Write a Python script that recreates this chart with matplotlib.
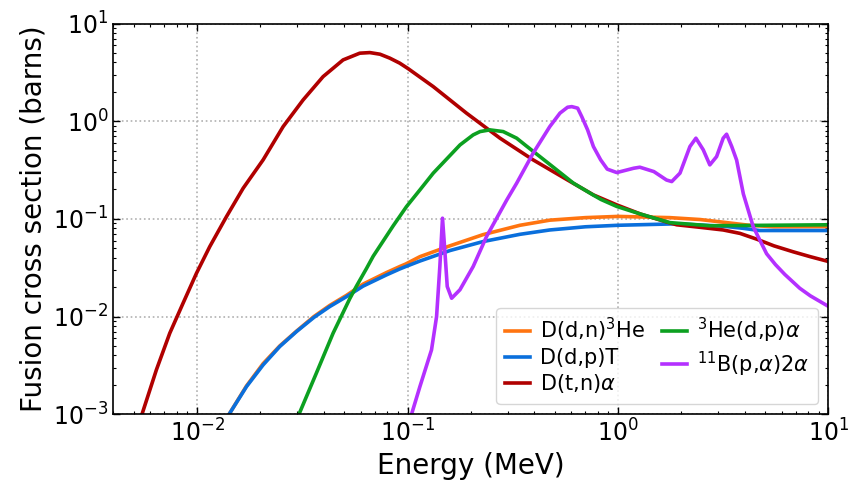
# -*- coding: utf-8 -*-
import matplotlib
matplotlib.use('Agg')
import matplotlib.pyplot as plt
import numpy as np

# energies in MeV, cross sections in barns
e_dt=np.array([0.0055, 0.00641, 0.00742, 0.00858, 0.00994, 0.01149, 0.0138, 0.01656,
               0.0206, 0.02564, 0.0319, 0.0397, 0.0494, 0.0593, 0.0662, 0.0740,
               0.0824, 0.0918, 0.1007, 0.1325, 0.1905, 0.275, 0.395, 0.576, 0.764,
               0.987, 1.28, 1.7, 1.9, 2.45, 3.16, 3.8, 4.56, 5.5, 6.8, 8.2, 10.0])
s_dt=np.array([0.00103, 0.00285, 0.00676, 0.0137, 0.0278, 0.052, 0.1056, 0.206,
               0.402, 0.88, 1.65, 2.86, 4.24, 4.97, 5.04, 4.85,
               4.42, 3.93, 3.45, 2.26, 1.21, 0.67, 0.402, 0.25, 0.176,
               0.139, 0.112, 0.093, 0.087, 0.082, 0.077, 0.071, 0.062, 0.053, 0.046, 0.041, 0.0366])

e_ddn=np.array([0.0142, 0.01718, 0.0206, 0.0247, 0.0297, 0.0359, 0.0427, 0.0513,
                0.0615, 0.0794, 0.0918, 0.098, 0.1144, 0.159, 0.2286, 0.342, 0.474, 0.7,
                1.0, 1.76, 2.45, 3.28, 4.2, 5.5, 10.0])
s_ddn=np.array([0.001, 0.00195, 0.0033, 0.0050, 0.0071, 0.0100, 0.0130, 0.0165,
                0.0215, 0.0282, 0.0325, 0.0345, 0.041, 0.053, 0.069, 0.086, 0.097, 0.103,
                0.106, 0.103, 0.0985, 0.0916, 0.086, 0.083, 0.0833])

e_ddp=np.array([0.0142, 0.01718, 0.0206, 0.0247, 0.0297, 0.0359, 0.0427, 0.0513,
                0.0615, 0.0794, 0.0918, 0.098, 0.1144, 0.159, 0.2286, 0.342, 0.474, 0.7,
                1.0, 1.9, 3.2, 3.94, 4.7, 10.0])
s_ddp=np.array([0.001, 0.00192, 0.0032, 0.00493, 0.00703, 0.0098, 0.01266, 0.0160,
                0.0205, 0.0267, 0.0307, 0.0325, 0.037, 0.0474, 0.0586, 0.0695, 0.077, 0.083,
                0.086, 0.089, 0.084, 0.080, 0.076, 0.076])

e_dhe=np.array([0.0305, 0.0369, 0.0443, 0.0532, 0.0572, 0.0638, 0.0687, 0.0855,
                0.0989, 0.1145, 0.1325, 0.1776, 0.205, 0.221, 0.246, 0.2847, 0.330,
                0.366, 0.4255, 0.492, 0.614, 0.764, 0.83, 0.987, 1.28, 1.76, 2.73, 10.0])
s_dhe=np.array([0.001, 0.00264, 0.00676, 0.0153, 0.0205, 0.031, 0.0415, 0.085,
                0.1337, 0.198, 0.294, 0.572, 0.724, 0.783, 0.815, 0.783, 0.67,
                0.56, 0.434, 0.339, 0.232, 0.175, 0.158, 0.134, 0.112, 0.0916, 0.085, 0.087])

e_pb=np.array([0.1045, 0.1145, 0.130, 0.1374, 0.1424, 0.1466, 0.1503, 0.1544,
               0.162, 0.1774, 0.205, 0.2374, 0.296, 0.330, 0.395, 0.474, 0.53,
               0.576, 0.603, 0.643, 0.673, 0.717, 0.764, 0.827, 0.889, 0.987, 1.187,
               1.27, 1.48, 1.70, 1.80, 1.97, 2.196, 2.345, 2.54, 2.73,
               2.94, 3.16, 3.28, 3.47, 3.66, 3.94, 4.39, 5.08, 5.6, 6.2, 7.3, 8.2, 10.0])
s_pb=np.array([0.001, 0.00192, 0.00456, 0.01, 0.0325, 0.1016, 0.048, 0.0203,
               0.0154, 0.0188, 0.0325, 0.066, 0.156, 0.232, 0.47, 0.88, 1.21,
               1.39, 1.41, 1.36, 1.11, 0.815, 0.55, 0.402, 0.323, 0.298, 0.33,
               0.338, 0.305, 0.25, 0.241, 0.294, 0.55, 0.67, 0.51, 0.357,
               0.434, 0.67, 0.736, 0.55, 0.40, 0.18, 0.083, 0.044, 0.034, 0.027, 0.0195, 0.0163, 0.0127])

lw1=2.6
fig, ax1 = plt.subplots(figsize=(8.48, 4.8), dpi=100)
plt.subplots_adjust(left=0.1336, right=0.977, top=0.951, bottom=0.137)

ax1.plot(e_ddn, s_ddn, color='#ff7410', lw=lw1, label='D(d,n)$^3$He')
ax1.plot(e_ddp, s_ddp, color='#0a6fdc', lw=lw1, label='D(d,p)T')
ax1.plot(e_dt, s_dt, color='#b00000', lw=lw1, label=r'D(t,n)$\alpha$')
ax1.plot(e_dhe, s_dhe, color='#0ca020', lw=lw1, label=r'$^3$He(d,p)$\alpha$')
ax1.plot(e_pb, s_pb, color='#b430ff', lw=lw1, label=r'$^{11}$B(p,$\alpha$)2$\alpha$')

ax1.set_xscale('log')
ax1.set_yscale('log')
ax1.set_xlim(0.004, 10)
ax1.set_ylim(1e-3, 10)
ax1.grid(True, which='major', ls=':', color='#b0b0b0', lw=1.2)
ax1.tick_params(which='major', direction='in', length=5, width=1, labelsize=17,
                top=True, right=True)
ax1.tick_params(which='minor', direction='in', length=2.5, width=0.8,
                top=True, right=True)
for axis in ['top','bottom','left','right']:
  ax1.spines[axis].set_linewidth(1.2)

ax1.set_xlabel('Energy (MeV)', fontsize=20)
ax1.set_ylabel('Fusion cross section (barns)', fontsize=20)
ax1.legend(loc='lower right', ncol=2, fontsize=15, handlelength=1.2,
           handletextpad=0.5, columnspacing=0.8, labelspacing=0.2,
           borderpad=0.4)
fig.savefig('out.png', dpi=100)
